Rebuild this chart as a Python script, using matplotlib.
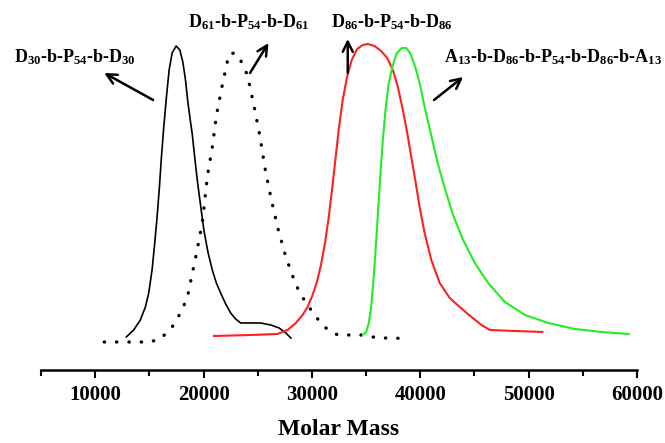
import matplotlib
matplotlib.use("Agg")
import matplotlib.pyplot as plt

plt.rcParams['font.family'] = ['Liberation Serif', 'DejaVu Serif']
plt.rcParams['font.weight'] = 'bold'
plt.rcParams['mathtext.fontset'] = 'custom'
plt.rcParams['mathtext.bf'] = 'Liberation Serif:bold'
plt.rcParams['mathtext.rm'] = 'Liberation Serif:bold'
plt.rcParams['mathtext.default'] = 'bf'

# D30-b-P54-b-D30 (solid black)
m_d30 = [12870, 13549, 14167, 14630, 14938, 15247, 15494, 15710, 15926, 16111,
         16327, 16574, 16821, 17099, 17469, 17809, 18087, 18333, 18549, 18796,
         18954, 19190, 19417, 19720, 20028, 20400, 20806, 21180, 21574, 22040,
         22500, 22960, 23426, 24352, 25278, 26204, 26975, 27592, 28056]
i_d30 = [33, 40, 50, 63, 77, 100, 127, 153, 183, 213,
         243, 273, 300, 317, 324, 320, 308, 290, 268, 248,
         236, 212, 190, 165, 140, 118, 100, 87, 77, 66,
         57, 51, 47, 47, 47, 45, 42, 37, 32]

# D61-b-P54-b-D61 (dotted black)
m_d61 = [10833, 11944, 12991, 14074, 15093, 16111, 17102, 17870, 18491, 19352,
         19880, 20343, 20806, 21176, 21731, 22343, 22870, 23361, 24046, 24657,
         25213, 25648, 26204, 26824, 27593, 28519, 29287, 30370, 31296, 32380,
         33454, 34537, 35620, 36694, 37778, 38861]
i_d61 = [28, 28, 28, 28, 28, 32, 43, 57, 72, 117,
         147, 193, 223, 254, 285, 316, 317, 311, 295, 264,
         233, 203, 173, 143, 113, 85, 70, 53, 42, 35,
         35, 35, 33, 32, 32, 30]

# D86-b-P54-b-D86 (red)
m_d86 = [20957, 24352, 26821, 27747, 28519, 29136, 29599, 30062, 30463, 30833,
         31204, 31543, 31852, 32161, 32469, 32839, 33240, 33673, 34167, 34691,
         35154, 35771, 36389, 36944, 37469, 37932, 38395, 38796, 39166, 39537,
         39938, 40401, 41018, 41790, 42716, 43641, 44722, 45648, 46417, 48731,
         51265]
i_d86 = [34, 35, 36, 40, 47, 55, 63, 75, 88, 105,
         127, 152, 180, 210, 240, 270, 293, 310, 321, 325,
         326, 324, 319, 312, 300, 283, 260, 237, 213, 190,
         163, 137, 110, 87, 72, 63, 53, 45, 40, 39,
         38]

# A13-b-D86-b-P54-b-D86-b-A13 (green)
m_a13 = [34691, 35000, 35247, 35463, 35679, 35895, 36111, 36327, 36543, 36790,
         37067, 37407, 37839, 38302, 38704, 39105, 39537, 39938, 40401, 40957,
         41574, 42253, 43025, 43950, 45030, 46265, 47808, 49660, 51820, 54289,
         56759, 59228]
i_a13 = [35, 38, 47, 63, 90, 123, 160, 197, 230, 260,
         285, 303, 317, 322, 322, 316, 303, 287, 263, 237,
         208, 182, 155, 130, 107, 87, 68, 55, 47, 41,
         38, 36]

fig = plt.figure(figsize=(6.65, 4.43), dpi=100)
ax = fig.add_axes([0.0617, 0.1648, 0.8962, 0.7675])

ax.plot(m_d30, i_d30, color='black', lw=1.2)
ax.plot(m_d61, i_d61, color='black', lw=2.4, linestyle=(0, (0.1, 3.6)),
        dash_capstyle='round')
ax.plot(m_d86, i_d86, color='#ff2020', lw=1.5)
ax.plot(m_a13, i_a13, color='#22ee22', lw=1.5)

ax.set_xlim(5000, 60000)
ax.set_ylim(0, 340)
ax.set_yticks([])
for side in ['left', 'right', 'top']:
    ax.spines[side].set_visible(False)
ax.spines['bottom'].set_linewidth(1.8)
ax.set_xticks([10000, 20000, 30000, 40000, 50000, 60000])
ax.set_xticks([5000, 15000, 25000, 35000, 45000, 55000], minor=True)
ax.tick_params(axis='x', which='major', length=6, width=1.5, labelsize=15, pad=5)
ax.tick_params(axis='x', which='minor', length=4, width=1.5)
ax.set_xlabel('Molar Mass', fontsize=17, fontweight='bold', labelpad=10)

labels = [
    (r'D$_{30}$-b-P$_{54}$-b-D$_{30}$', 2500, 313),
    (r'D$_{61}$-b-P$_{54}$-b-D$_{61}$', 18518, 348),
    (r'D$_{86}$-b-P$_{54}$-b-D$_{86}$', 31759, 348),
    (r'A$_{13}$-b-D$_{86}$-b-P$_{54}$-b-D$_{86}$-b-A$_{13}$', 42220, 313),
]
for txt, x, y in labels:
    ax.text(x, y, txt, fontsize=13, fontweight='bold', ha='left', va='center',
            clip_on=False)

arrows = [
    ((10833, 297), (15343, 270)),
    ((25991, 327), (24287, 297)),
    ((33306, 331), (33306, 297)),
    ((43954, 293), (41269, 270)),
]
for head, tail in arrows:
    ax.annotate('', xy=head, xytext=tail, annotation_clip=False,
                arrowprops=dict(arrowstyle='->', lw=1.8, color='black',
                                mutation_scale=18, shrinkA=0, shrinkB=0))

fig.savefig('out.png', dpi=100)
